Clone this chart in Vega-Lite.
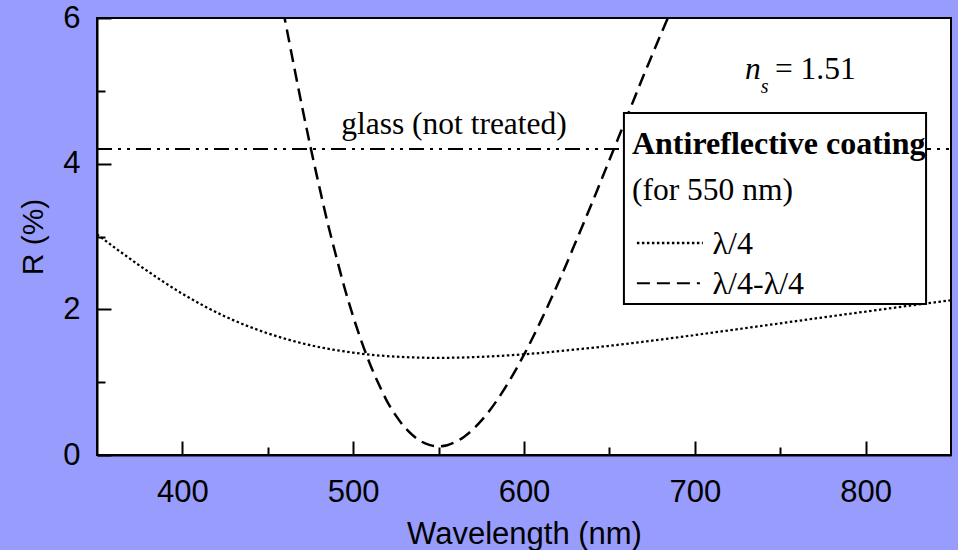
{
  "$schema": "https://vega.github.io/schema/vega-lite/v6.json",
  "width": 854,
  "height": 437,
  "autosize": {"type": "none"},
  "padding": {"left": 97, "top": 18, "right": 7, "bottom": 95},
  "background": "#989cfc",
  "view": {"fill": "white", "stroke": "black", "strokeWidth": 2},
  "config": {
    "axis": {
      "domainColor": "black",
      "domainWidth": 2,
      "tickColor": "black",
      "tickWidth": 2,
      "labelColor": "black",
      "labelFont": "Liberation Sans",
      "labelFontSize": 31,
      "titleFont": "Liberation Sans",
      "titleFontWeight": "normal",
      "titleColor": "black",
      "grid": false,
      "labelFlush": false,
      "labelOverlap": false
    }
  },
  "data": {
    "values": [
      {"series": "glass (not treated)", "wl": 350, "R": 4.2},
      {"series": "glass (not treated)", "wl": 850, "R": 4.2},
      {"series": "λ/4", "wl": 350, "R": 3.03},
      {"series": "λ/4", "wl": 375, "R": 2.6},
      {"series": "λ/4", "wl": 400, "R": 2.214},
      {"series": "λ/4", "wl": 425, "R": 1.902},
      {"series": "λ/4", "wl": 450, "R": 1.67},
      {"series": "λ/4", "wl": 475, "R": 1.507},
      {"series": "λ/4", "wl": 500, "R": 1.405},
      {"series": "λ/4", "wl": 525, "R": 1.35},
      {"series": "λ/4", "wl": 550, "R": 1.334},
      {"series": "λ/4", "wl": 575, "R": 1.348},
      {"series": "λ/4", "wl": 600, "R": 1.383},
      {"series": "λ/4", "wl": 625, "R": 1.435},
      {"series": "λ/4", "wl": 650, "R": 1.499},
      {"series": "λ/4", "wl": 675, "R": 1.57},
      {"series": "λ/4", "wl": 700, "R": 1.647},
      {"series": "λ/4", "wl": 725, "R": 1.727},
      {"series": "λ/4", "wl": 750, "R": 1.808},
      {"series": "λ/4", "wl": 775, "R": 1.889},
      {"series": "λ/4", "wl": 800, "R": 1.969},
      {"series": "λ/4", "wl": 825, "R": 2.048},
      {"series": "λ/4", "wl": 850, "R": 2.125},
      {"series": "λ/4-λ/4", "wl": 450, "R": 7.19},
      {"series": "λ/4-λ/4", "wl": 455, "R": 6.58},
      {"series": "λ/4-λ/4", "wl": 460, "R": 5.98},
      {"series": "λ/4-λ/4", "wl": 465, "R": 5.38},
      {"series": "λ/4-λ/4", "wl": 470, "R": 4.79},
      {"series": "λ/4-λ/4", "wl": 475, "R": 4.23},
      {"series": "λ/4-λ/4", "wl": 480, "R": 3.7},
      {"series": "λ/4-λ/4", "wl": 485, "R": 3.19},
      {"series": "λ/4-λ/4", "wl": 490, "R": 2.73},
      {"series": "λ/4-λ/4", "wl": 495, "R": 2.29},
      {"series": "λ/4-λ/4", "wl": 500, "R": 1.9},
      {"series": "λ/4-λ/4", "wl": 505, "R": 1.55},
      {"series": "λ/4-λ/4", "wl": 510, "R": 1.24},
      {"series": "λ/4-λ/4", "wl": 515, "R": 0.97},
      {"series": "λ/4-λ/4", "wl": 520, "R": 0.73},
      {"series": "λ/4-λ/4", "wl": 525, "R": 0.54},
      {"series": "λ/4-λ/4", "wl": 530, "R": 0.385},
      {"series": "λ/4-λ/4", "wl": 535, "R": 0.267},
      {"series": "λ/4-λ/4", "wl": 540, "R": 0.184},
      {"series": "λ/4-λ/4", "wl": 545, "R": 0.136},
      {"series": "λ/4-λ/4", "wl": 550, "R": 0.12},
      {"series": "λ/4-λ/4", "wl": 555, "R": 0.135},
      {"series": "λ/4-λ/4", "wl": 560, "R": 0.18},
      {"series": "λ/4-λ/4", "wl": 565, "R": 0.252},
      {"series": "λ/4-λ/4", "wl": 570, "R": 0.349},
      {"series": "λ/4-λ/4", "wl": 575, "R": 0.471},
      {"series": "λ/4-λ/4", "wl": 580, "R": 0.614},
      {"series": "λ/4-λ/4", "wl": 585, "R": 0.779},
      {"series": "λ/4-λ/4", "wl": 590, "R": 0.962},
      {"series": "λ/4-λ/4", "wl": 595, "R": 1.162},
      {"series": "λ/4-λ/4", "wl": 600, "R": 1.377},
      {"series": "λ/4-λ/4", "wl": 605, "R": 1.606},
      {"series": "λ/4-λ/4", "wl": 610, "R": 1.848},
      {"series": "λ/4-λ/4", "wl": 615, "R": 2.1},
      {"series": "λ/4-λ/4", "wl": 620, "R": 2.36},
      {"series": "λ/4-λ/4", "wl": 625, "R": 2.63},
      {"series": "λ/4-λ/4", "wl": 630, "R": 2.91},
      {"series": "λ/4-λ/4", "wl": 635, "R": 3.19},
      {"series": "λ/4-λ/4", "wl": 640, "R": 3.47},
      {"series": "λ/4-λ/4", "wl": 645, "R": 3.76},
      {"series": "λ/4-λ/4", "wl": 650, "R": 4.05},
      {"series": "λ/4-λ/4", "wl": 655, "R": 4.34},
      {"series": "λ/4-λ/4", "wl": 660, "R": 4.63},
      {"series": "λ/4-λ/4", "wl": 665, "R": 4.92},
      {"series": "λ/4-λ/4", "wl": 670, "R": 5.21},
      {"series": "λ/4-λ/4", "wl": 675, "R": 5.49},
      {"series": "λ/4-λ/4", "wl": 680, "R": 5.77},
      {"series": "λ/4-λ/4", "wl": 685, "R": 6.04},
      {"series": "λ/4-λ/4", "wl": 690, "R": 6.31}
    ]
  },
  "layer": [
    {
      "mark": {"type": "line", "color": "black", "clip": true, "interpolate": "monotone"},
      "encoding": {
        "x": {
          "field": "wl", "type": "quantitative",
          "scale": {"domain": [350, 850], "nice": false, "zero": false},
          "axis": {
            "title": "Wavelength (nm)",
            "titleFontSize": 31,
            "values": [400, 450, 500, 550, 600, 650, 700, 750, 800],
            "format": "d",
            "labelExpr": "datum.value % 100 === 0 ? datum.label : ''",
            "tickSize": {"condition": {"test": "datum.value % 100 === 0", "value": -14}, "value": -8},
            "labelPadding": 36.5,
            "titleY": 88,
            "titleBaseline": "alphabetic"
          }
        },
        "y": {
          "field": "R", "type": "quantitative",
          "scale": {"domain": [0, 6], "nice": false},
          "axis": {
            "title": "R (%)",
            "titleFontSize": 30,
            "values": [0, 1, 2, 3, 4, 5, 6],
            "format": "d",
            "labelExpr": "datum.value % 2 === 0 ? datum.label : ''",
            "tickSize": {"condition": {"test": "datum.value % 2 === 0", "value": -14}, "value": -8},
            "labelPadding": 31,
            "titleX": -55,
            "titleBaseline": "alphabetic"
          }
        },
        "strokeDash": {
          "field": "series", "type": "nominal",
          "scale": {"domain": ["glass (not treated)", "λ/4", "λ/4-λ/4"], "range": [[15, 6, 3, 6, 3, 6], [2.5, 2.5], [13, 7]]},
          "legend": null
        },
        "strokeWidth": {
          "field": "series", "type": "nominal",
          "scale": {"domain": ["glass (not treated)", "λ/4", "λ/4-λ/4"], "range": [2, 2.5, 2]},
          "legend": null
        },
        "detail": {"field": "series"}
      }
    },
    {
      "data": {"values": [{}]},
      "mark": {"type": "rect", "fill": "white", "stroke": "black", "strokeWidth": 2},
      "encoding": {
        "x": {"datum": 658.5, "type": "quantitative"},
        "x2": {"datum": 835.4},
        "y": {"datum": 4.696, "type": "quantitative"},
        "y2": {"datum": 2.073}
      }
    },
    {
      "data": {"values": [{}]},
      "mark": {"type": "text", "text": "glass (not treated)", "font": "Liberation Serif", "fontSize": 31.5, "align": "center", "baseline": "alphabetic", "color": "black"},
      "encoding": {"x": {"datum": 559, "type": "quantitative"}, "y": {"datum": 4.41, "type": "quantitative"}}
    },
    {
      "data": {"values": [{}]},
      "mark": {"type": "text", "text": "n", "font": "Liberation Serif", "fontStyle": "italic", "fontSize": 31.5, "align": "left", "baseline": "alphabetic", "color": "black"},
      "encoding": {"x": {"datum": 729.4, "type": "quantitative"}, "y": {"datum": 5.159, "type": "quantitative"}}
    },
    {
      "data": {"values": [{}]},
      "mark": {"type": "text", "text": "s", "font": "Liberation Serif", "fontStyle": "italic", "fontSize": 20, "align": "left", "baseline": "alphabetic", "color": "black"},
      "encoding": {"x": {"datum": 738.6, "type": "quantitative"}, "y": {"datum": 4.97, "type": "quantitative"}}
    },
    {
      "data": {"values": [{}]},
      "mark": {"type": "text", "text": "= 1.51", "font": "Liberation Serif", "fontSize": 31.5, "align": "left", "baseline": "alphabetic", "color": "black"},
      "encoding": {"x": {"datum": 746.9, "type": "quantitative"}, "y": {"datum": 5.159, "type": "quantitative"}}
    },
    {
      "data": {"values": [{}]},
      "mark": {"type": "text", "text": "Antireflective coating", "font": "Liberation Serif", "fontWeight": "bold", "fontSize": 32, "align": "left", "baseline": "alphabetic", "color": "black"},
      "encoding": {"x": {"datum": 663.2, "type": "quantitative"}, "y": {"datum": 4.133, "type": "quantitative"}}
    },
    {
      "data": {"values": [{}]},
      "mark": {"type": "text", "text": "(for 550 nm)", "font": "Liberation Serif", "fontSize": 31.5, "align": "left", "baseline": "alphabetic", "color": "black"},
      "encoding": {"x": {"datum": 663.2, "type": "quantitative"}, "y": {"datum": 3.501, "type": "quantitative"}}
    },
    {
      "data": {"values": [{}]},
      "mark": {"type": "rule", "color": "black", "strokeWidth": 2.5, "strokeDash": [2.5, 2.5]},
      "encoding": {"x": {"datum": 666.1, "type": "quantitative"}, "x2": {"datum": 704.7}, "y": {"datum": 2.911, "type": "quantitative"}}
    },
    {
      "data": {"values": [{}]},
      "mark": {"type": "text", "text": "λ/4", "font": "Liberation Serif", "fontSize": 32, "align": "left", "baseline": "alphabetic", "color": "black"},
      "encoding": {"x": {"datum": 710.4, "type": "quantitative"}, "y": {"datum": 2.76, "type": "quantitative"}}
    },
    {
      "data": {"values": [{}]},
      "mark": {"type": "rule", "color": "black", "strokeWidth": 2, "strokeDash": [13, 7]},
      "encoding": {"x": {"datum": 666.1, "type": "quantitative"}, "x2": {"datum": 703}, "y": {"datum": 2.358, "type": "quantitative"}}
    },
    {
      "data": {"values": [{}]},
      "mark": {"type": "text", "text": "λ/4-λ/4", "font": "Liberation Serif", "fontSize": 32, "align": "left", "baseline": "alphabetic", "color": "black"},
      "encoding": {"x": {"datum": 710.4, "type": "quantitative"}, "y": {"datum": 2.211, "type": "quantitative"}}
    }
  ]
}
